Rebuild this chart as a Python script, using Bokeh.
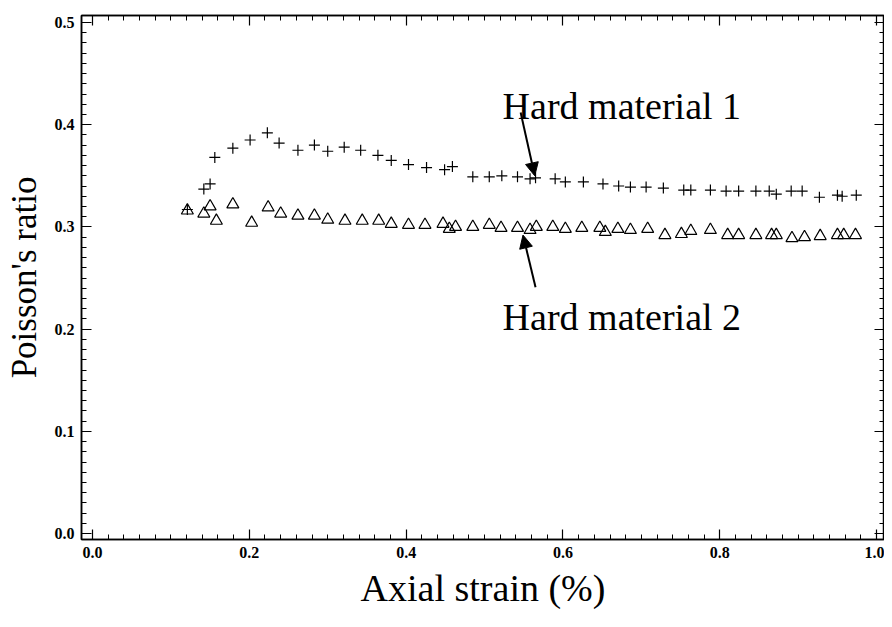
from bokeh.plotting import figure
from bokeh.models import (Range1d, SingleIntervalTicker, LinearAxis, Label, Arrow, NormalHead,
                          PrintfTickFormatter, CustomLabelingPolicy)
from bokeh.embed import file_html
from bokeh.resources import INLINE

# Hard material 1 (plus markers)
strain_1 = [0.121, 0.142, 0.150, 0.156, 0.179, 0.201, 0.223, 0.238, 0.262, 0.283,
            0.300, 0.321, 0.342, 0.364, 0.381, 0.403, 0.426, 0.449, 0.459, 0.485,
            0.506, 0.522, 0.542, 0.558, 0.565, 0.590, 0.603, 0.626, 0.651, 0.671,
            0.686, 0.706, 0.728, 0.754, 0.763, 0.788, 0.808, 0.824, 0.846, 0.863,
            0.872, 0.891, 0.905, 0.927, 0.950, 0.956, 0.974]
ratio_1 = [0.317, 0.337, 0.342, 0.368, 0.377, 0.385, 0.392, 0.382, 0.375, 0.380,
           0.374, 0.378, 0.375, 0.370, 0.365, 0.361, 0.358, 0.356, 0.359, 0.349,
           0.349, 0.350, 0.349, 0.347, 0.348, 0.347, 0.344, 0.344, 0.342, 0.340,
           0.339, 0.339, 0.338, 0.336, 0.336, 0.336, 0.335, 0.335, 0.335, 0.335,
           0.332, 0.335, 0.335, 0.329, 0.331, 0.330, 0.331]

# Hard material 2 (triangle markers)
strain_2 = [0.121, 0.142, 0.150, 0.158, 0.179, 0.203, 0.224, 0.240, 0.262, 0.283,
            0.300, 0.322, 0.344, 0.365, 0.381, 0.403, 0.424, 0.447, 0.455, 0.463,
            0.485, 0.506, 0.521, 0.542, 0.558, 0.566, 0.587, 0.603, 0.624, 0.647,
            0.654, 0.670, 0.686, 0.708, 0.730, 0.751, 0.763, 0.788, 0.810, 0.824,
            0.846, 0.866, 0.872, 0.892, 0.908, 0.928, 0.950, 0.958, 0.973]
ratio_2 = [0.316, 0.313, 0.320, 0.306, 0.322, 0.304, 0.319, 0.313, 0.311, 0.311,
           0.307, 0.306, 0.306, 0.306, 0.303, 0.302, 0.302, 0.303, 0.298, 0.300,
           0.300, 0.302, 0.299, 0.299, 0.297, 0.300, 0.300, 0.298, 0.299, 0.299,
           0.295, 0.298, 0.297, 0.298, 0.292, 0.293, 0.296, 0.297, 0.292, 0.292,
           0.292, 0.292, 0.292, 0.289, 0.290, 0.291, 0.292, 0.292, 0.292]

x_label = "Axial strain (%)"
y_label = "Poisson's ratio"
name_1 = "Hard material 1"
name_2 = "Hard material 2"

SERIF = "Liberation Serif"

p = figure(width=884, height=611, output_backend="svg", toolbar_location=None,
           x_range=Range1d(-0.014, 1.010), y_range=Range1d(-0.0058, 0.5068),
           min_border_left=81, min_border_right=0, min_border_top=15, min_border_bottom=66)
p.xgrid.visible = False
p.ygrid.visible = False
p.outline_line_color = "black"
p.outline_line_width = 1.5
p.background_fill_color = "white"
p.border_fill_color = "white"

def style_axis(ax, labels=True):
    ax.axis_line_color = "black"
    ax.axis_line_width = 1.5
    ax.major_tick_in = 10
    ax.major_tick_out = 0
    ax.minor_tick_in = 5
    ax.minor_tick_out = 0
    ax.major_tick_line_color = "black"
    ax.minor_tick_line_color = "black"
    ax.major_tick_line_width = 1.2
    ax.minor_tick_line_width = 1
    if labels:
        ax.major_label_text_font = SERIF
        ax.major_label_text_font_style = "bold"
        ax.major_label_text_font_size = "16px"
        ax.major_label_text_color = "black"
        ax.formatter = PrintfTickFormatter(format="%.1f")
    else:
        ax.major_label_policy = CustomLabelingPolicy(code="return []")
        ax.major_label_text_font_size = "0px"
        ax.major_label_standoff = 0

xt = SingleIntervalTicker(interval=0.2, num_minor_ticks=10)
yt = SingleIntervalTicker(interval=0.1, num_minor_ticks=10)

p.xaxis.ticker = xt
p.yaxis.ticker = yt
style_axis(p.xaxis[0])
style_axis(p.yaxis[0])
p.xaxis.major_label_standoff = 7
p.yaxis.major_label_standoff = 7
p.xaxis.axis_label = x_label
p.yaxis.axis_label = y_label
for ax in (p.xaxis[0], p.yaxis[0]):
    ax.axis_label_text_font = SERIF
    ax.axis_label_text_font_style = "normal"
    ax.axis_label_text_color = "black"
p.xaxis.axis_label_text_font_size = "38px"
p.yaxis.axis_label_text_font_size = "35px"
p.xaxis.axis_label_standoff = 6
p.yaxis.axis_label_standoff = 8

top = LinearAxis(ticker=SingleIntervalTicker(interval=0.2, num_minor_ticks=10))
style_axis(top, labels=False)
p.add_layout(top, "above")
right = LinearAxis(ticker=SingleIntervalTicker(interval=0.1, num_minor_ticks=10))
style_axis(right, labels=False)
p.add_layout(right, "right")

p.scatter(strain_1, ratio_1, marker="cross", size=11, line_color="black", line_width=1.2)
p.scatter(strain_2, ratio_2, marker="triangle", size=12, fill_color=None,
          line_color="black", line_width=1.2)

p.add_layout(Label(x=0.523, y=0.418, text=name_1, text_font=SERIF, text_baseline="alphabetic",
                   text_font_size="38px", text_color="black"))
p.add_layout(Label(x=0.523, y=0.212, text=name_2, text_font=SERIF, text_baseline="alphabetic",
                   text_font_size="38px", text_color="black"))

p.add_layout(Arrow(x_start=0.546, y_start=0.412, x_end=0.564, y_end=0.350,
                   line_color="black", line_width=2,
                   end=NormalHead(size=13, fill_color="black", line_color="black")))
p.add_layout(Arrow(x_start=0.565, y_start=0.241, x_end=0.549, y_end=0.292,
                   line_color="black", line_width=2,
                   end=NormalHead(size=13, fill_color="black", line_color="black")))

open("out.html", "w").write(file_html(p, INLINE))
